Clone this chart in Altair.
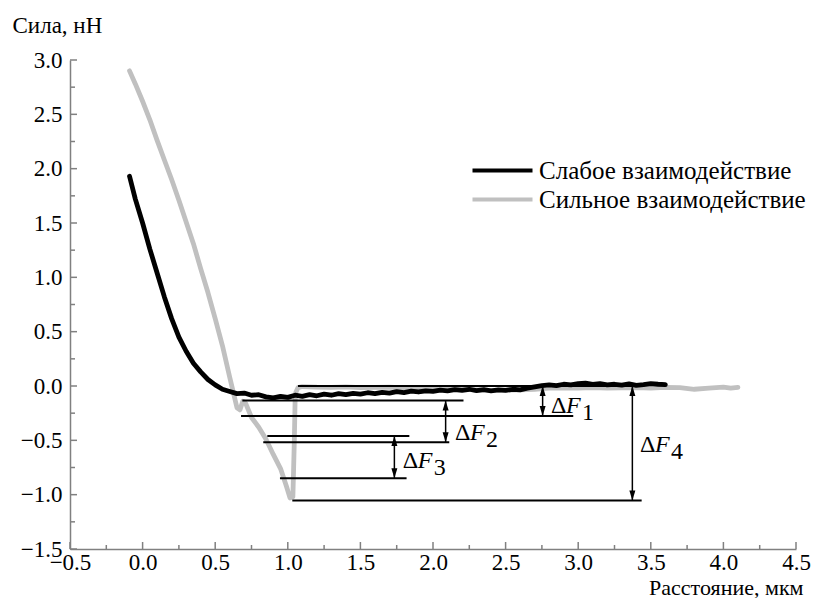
import altair as alt
import pandas as pd

W, H = 726, 489
FONT = "Liberation Serif, Times New Roman, Times, serif"

series_names = ["Слабое взаимодействие", "Сильное взаимодействие"]
series_colors = ["#000000", "#c0c0c0"]

weak_x = [-0.09, -0.05, 0.0, 0.05, 0.10, 0.15, 0.20, 0.25, 0.30, 0.35, 0.40, 0.45, 0.50, 0.55,
          0.60, 0.65, 0.70, 0.75, 0.80, 0.85, 0.90, 0.95, 1.00, 1.05, 1.10, 1.15, 1.20, 1.25,
          1.30, 1.35, 1.40, 1.45, 1.50, 1.55, 1.60, 1.65, 1.70, 1.75, 1.80, 1.85, 1.90, 1.95,
          2.00, 2.05, 2.10, 2.15, 2.20, 2.25, 2.30, 2.35, 2.40, 2.45, 2.50, 2.55, 2.60, 2.65,
          2.70, 2.75, 2.80, 2.85, 2.90, 2.95, 3.00, 3.05, 3.10, 3.15, 3.20, 3.25, 3.30, 3.35,
          3.40, 3.45, 3.50, 3.55, 3.60]
weak_y = [1.93, 1.72, 1.50, 1.26, 1.04, 0.82, 0.62, 0.45, 0.32, 0.21, 0.13, 0.06, 0.01, -0.03,
          -0.050, -0.070, -0.065, -0.085, -0.080, -0.100, -0.110, -0.095, -0.105, -0.085, -0.095,
          -0.080, -0.090, -0.075, -0.085, -0.070, -0.080, -0.068, -0.075, -0.062, -0.070, -0.058,
          -0.066, -0.052, -0.060, -0.048, -0.055, -0.044, -0.050, -0.038, -0.045, -0.034, -0.040,
          -0.030, -0.042, -0.034, -0.044, -0.036, -0.040, -0.030, -0.036, -0.020, -0.008, 0.004,
          0.010, 0.004, 0.016, 0.010, 0.022, 0.026, 0.014, 0.022, 0.010, 0.016, 0.008, 0.020,
          0.006, 0.012, 0.022, 0.016, 0.012]

strong_x = [-0.09, -0.05, 0.0, 0.05, 0.10, 0.15, 0.20, 0.25, 0.30, 0.35, 0.40, 0.45, 0.50, 0.55,
            0.60, 0.625, 0.65, 0.67, 0.69, 0.71, 0.75, 0.80, 0.85, 0.90, 0.95, 0.99, 1.015,
            1.035, 1.045, 1.05, 1.055, 1.07, 1.10, 1.2, 1.3, 1.4, 1.5, 1.6, 1.7, 1.8, 1.9, 2.0,
            2.1, 2.2, 2.3, 2.4, 2.5, 2.6, 2.7, 2.8, 2.9, 3.0, 3.1, 3.2, 3.3, 3.4, 3.5, 3.6, 3.7,
            3.8, 3.9, 4.0, 4.05, 4.1]
strong_y = [2.90, 2.78, 2.62, 2.45, 2.26, 2.08, 1.90, 1.71, 1.51, 1.31, 1.08, 0.86, 0.62, 0.37,
            0.08, -0.06, -0.20, -0.22, -0.14, -0.16, -0.29, -0.38, -0.49, -0.63, -0.76, -0.92,
            -1.03, -1.02, -0.50, -0.15, -0.06, -0.015, -0.005, -0.01, -0.012, -0.008, -0.015,
            -0.012, -0.01, -0.018, -0.02, -0.022, -0.025, -0.03, -0.035, -0.04, -0.038, -0.035,
            -0.03, -0.02, -0.018, -0.02, -0.015, -0.02, -0.018, -0.015, -0.02, -0.012, -0.015,
            -0.03, -0.02, -0.01, -0.02, -0.012]

# annotation levels
hline_y = [0.0, -0.134, -0.275, -0.459, -0.517, -0.848, -1.054]
hline_x1 = [1.07, 0.687, 0.678, 0.859, 0.831, 0.946, 1.031]
hline_x2 = [3.38, 2.21, 2.966, 1.837, 2.112, 1.818, 3.437]

arrow_x = [2.755, 2.087, 1.734, 3.373]
arrow_top = [0.0, -0.134, -0.459, 0.0]
arrow_bot = [-0.275, -0.517, -0.848, -1.054]

label_x = [2.813, 2.152, 1.791, 3.426]
label_y = [-0.25, -0.496, -0.753, -0.606]
label_sub = ["1", "2", "3", "4"]

x_major = [-0.5, 0.0, 0.5, 1.0, 1.5, 2.0, 2.5, 3.0, 3.5, 4.0, 4.5]
x_minor = [-0.25, 0.25, 0.75, 1.25, 1.75, 2.25, 2.75, 3.25, 3.75, 4.25]
y_major = [-1.5, -1.0, -0.5, 0.0, 0.5, 1.0, 1.5, 2.0, 2.5, 3.0]
y_minor = [-1.25, -0.75, -0.25, 0.25, 0.75, 1.25, 1.75, 2.25, 2.75]

x_title = "Расстояние, мкм"
y_title = "Сила, нН"

# ---------------------------------------------------------------
xs = alt.Scale(domain=[-0.5, 4.5], nice=False, zero=False)
ys = alt.Scale(domain=[-1.5, 3.0], nice=False, zero=False)
cs = alt.Scale(domain=series_names, range=series_colors)

label_expr = "replace(format(datum.value, '.1f'), '-', '\u2013')"
axis_common = dict(
    ticks=False, tickSize=0, grid=False, labelFont=FONT, labelFontSize=23,
    labelColor="black", domainColor="#808080", domainWidth=1.5,
    labelOverlap=False, labelFlush=False, labelExpr=label_expr,
    titleFont=FONT, titleFontWeight="normal", titleColor="black",
    titleAngle=0, titleLimit=0,
)
x_axis = alt.Axis(values=x_major, labelPadding=2, title=x_title, titleX=733,
                  titleY=45, titleFontSize=22, titleAlign="right",
                  titleBaseline="alphabetic", **axis_common)
y_axis = alt.Axis(values=y_major, labelPadding=8, title=y_title, titleX=-58,
                  titleY=-28, titleFontSize=23, titleAlign="left",
                  titleBaseline="alphabetic", **axis_common)

legend = alt.Legend(orient="none", legendX=420, legendY=98, title=None,
                    symbolType="M-3,0H3", symbolSize=400, symbolStrokeWidth=4,
                    labelFont=FONT, labelFontSize=25, labelColor="black", labelLimit=0,
                    labelOffset=24, rowPadding=3, padding=0)

weak_df = pd.DataFrame({"x": weak_x, "y": weak_y, "s": series_names[0],
                        "i": range(len(weak_x))})
strong_df = pd.DataFrame({"x": strong_x, "y": strong_y, "s": series_names[1],
                          "i": range(len(strong_x))})

strong_line = alt.Chart(strong_df).mark_line(strokeWidth=4.8, strokeJoin="round",
                                             strokeCap="round").encode(
    x=alt.X("x:Q", scale=xs, axis=x_axis),
    y=alt.Y("y:Q", scale=ys, axis=y_axis),
    color=alt.Color("s:N", scale=cs, legend=legend),
    order="i:Q",
)
weak_line = alt.Chart(weak_df).mark_line(strokeWidth=4.8, strokeJoin="round",
                                         strokeCap="round").encode(
    x=alt.X("x:Q", scale=xs),
    y=alt.Y("y:Q", scale=ys),
    color=alt.Color("s:N", scale=cs, legend=legend),
    order="i:Q",
)

hl_df = pd.DataFrame({"y": hline_y, "x1": hline_x1, "x2": hline_x2})
hlines = alt.Chart(hl_df).mark_rule(color="black", strokeWidth=2).encode(
    x=alt.X("x1:Q", scale=xs), x2="x2:Q", y=alt.Y("y:Q", scale=ys))

ar_df = pd.DataFrame({"x": arrow_x, "top": arrow_top, "bot": arrow_bot})
shafts = alt.Chart(ar_df).mark_rule(color="black", strokeWidth=1.5).encode(
    x=alt.X("x:Q", scale=xs), y=alt.Y("top:Q", scale=ys), y2="bot:Q")
heads_up = alt.Chart(ar_df).mark_point(shape="M0,0L-0.6,2L0.6,2Z", filled=True, size=100,
                                       color="black", opacity=1, strokeWidth=0).encode(
    x=alt.X("x:Q", scale=xs), y=alt.Y("top:Q", scale=ys))
heads_dn = alt.Chart(ar_df).mark_point(shape="M0,0L-0.6,-2L0.6,-2Z", filled=True, size=100,
                                       color="black", opacity=1, strokeWidth=0).encode(
    x=alt.X("x:Q", scale=xs), y=alt.Y("bot:Q", scale=ys))

lb_df = pd.DataFrame({"x": label_x, "y": label_y, "sub": label_sub})
lb_base = alt.Chart(lb_df).encode(x=alt.X("x:Q", scale=xs), y=alt.Y("y:Q", scale=ys))
delta = lb_base.mark_text(text="\u0394", font=FONT, fontSize=24, align="left",
                          baseline="alphabetic", color="black")
eff = lb_base.mark_text(text="F", font=FONT, fontSize=24, fontStyle="italic", align="left",
                        baseline="alphabetic", color="black", dx=15)
sub = lb_base.mark_text(font=FONT, fontSize=24, align="left", baseline="alphabetic",
                        color="black", dx=31, dy=7).encode(text="sub:N")

# inward axis ticks
ymaj = alt.Chart(pd.DataFrame({"v": y_major})).mark_rule(color="#808080", strokeWidth=1.5).encode(
    y=alt.Y("v:Q", scale=ys), x=alt.value(0), x2=alt.value(7))
ymin = alt.Chart(pd.DataFrame({"v": y_minor})).mark_rule(color="#808080", strokeWidth=1.5).encode(
    y=alt.Y("v:Q", scale=ys), x=alt.value(0), x2=alt.value(5))
xmaj = alt.Chart(pd.DataFrame({"v": x_major})).mark_rule(color="#808080", strokeWidth=1.5).encode(
    x=alt.X("v:Q", scale=xs), y=alt.value(H), y2=alt.value(H - 7))
xmin = alt.Chart(pd.DataFrame({"v": x_minor})).mark_rule(color="#808080", strokeWidth=1.5).encode(
    x=alt.X("v:Q", scale=xs), y=alt.value(H), y2=alt.value(H - 4))

chart = alt.layer(
    strong_line, weak_line, hlines, shafts, heads_up, heads_dn, delta, eff, sub,
    ymaj, ymin, xmaj, xmin,
).properties(
    width=W, height=H,
    autosize=alt.AutoSizeParams(type="none"),
    padding={"left": 62, "top": 52, "right": 22, "bottom": 49},
    background="white",
).configure_view(stroke=None)

chart.save("out.html", embed_options={"renderer": "svg", "actions": False})
